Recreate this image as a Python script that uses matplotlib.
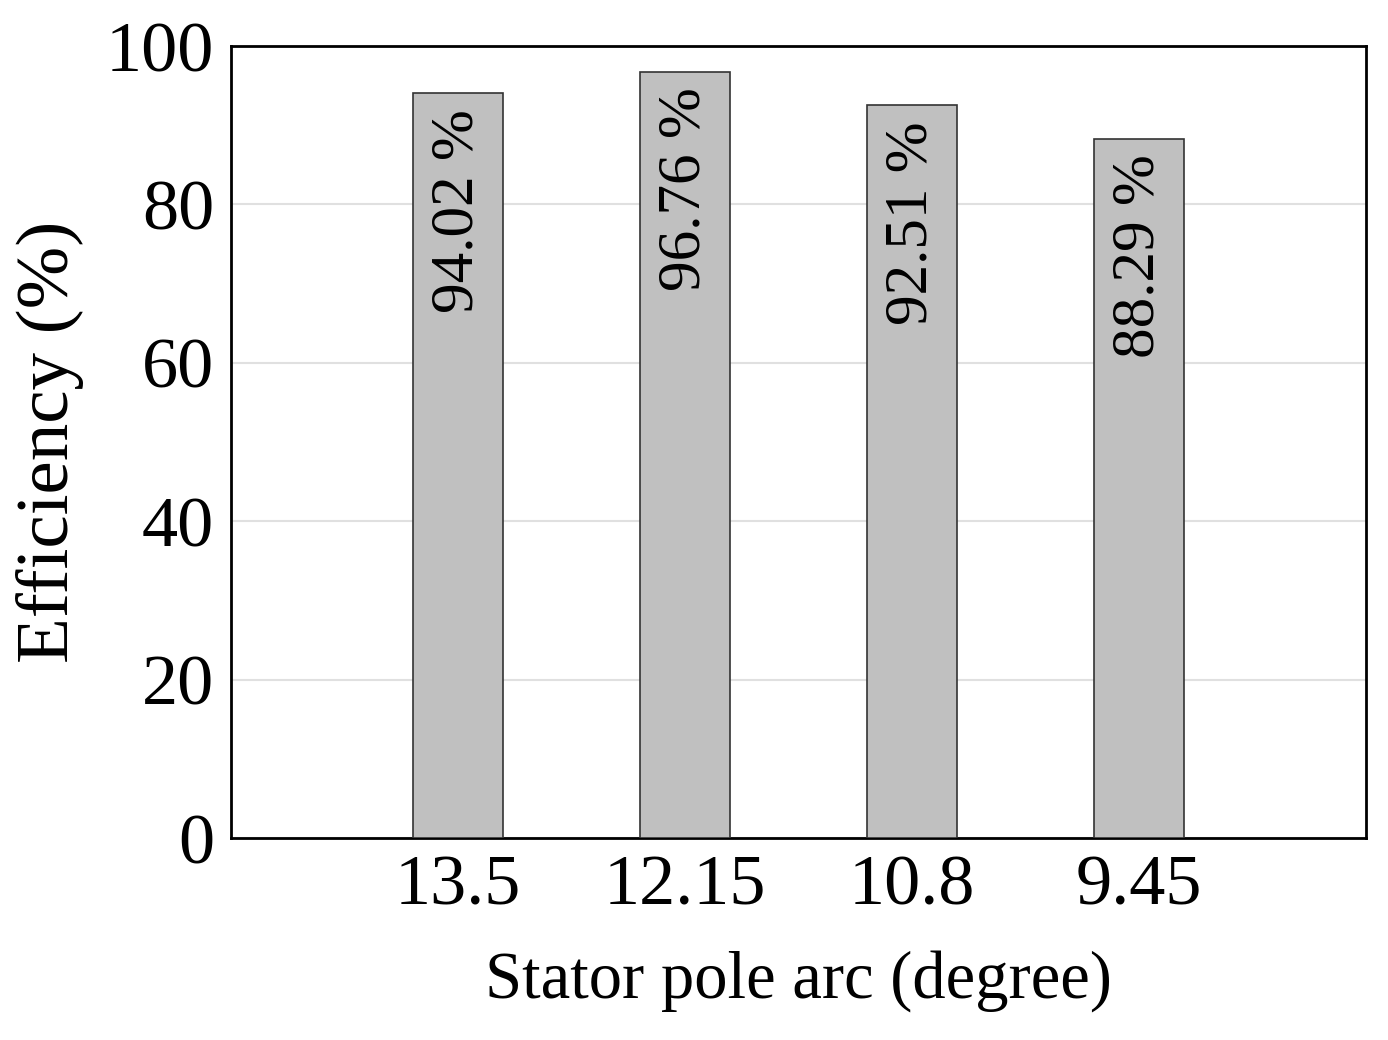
import matplotlib
matplotlib.use("Agg")
import matplotlib.pyplot as plt

categories = ["13.5", "12.15", "10.8", "9.45"]
efficiency = [94.02, 96.76, 92.51, 88.29]
yticks = [0, 20, 40, 60, 80, 100]

plt.rcParams['font.family'] = ['Liberation Serif', 'DejaVu Serif']
fig = plt.figure(figsize=(13.88, 10.40), dpi=100)
ax = fig.add_axes([231/1388, 1-838/1040, (1366-231)/1388, (838-46)/1040])
x = list(range(len(categories)))
ax.bar(x, efficiency, width=0.4, color='#c0c0c0', edgecolor='#333333', linewidth=1.2, zorder=3)
for xi, v in zip(x, efficiency):
    ax.text(xi, v - 2, f"{v:.2f} %", rotation=90, ha='center', va='top', fontsize=44, zorder=4)
ax.set_xlim(-1, 4)
ax.set_ylim(0, 100)
ax.set_yticks(yticks)
ax.set_xticks(x)
ax.set_xticklabels(categories)
ax.tick_params(length=0, labelsize=52, pad=12)
ax.yaxis.grid(True, color='#e0e0e0', linewidth=1.5, zorder=0)
for s in ax.spines.values():
    s.set_linewidth(2)
    s.set_color('black')
ax.set_xlabel("Stator pole arc (degree)", fontsize=48, labelpad=22)
ax.set_ylabel("Efficiency (%)", fontsize=54, labelpad=16)
fig.savefig("out.png", dpi=100)
